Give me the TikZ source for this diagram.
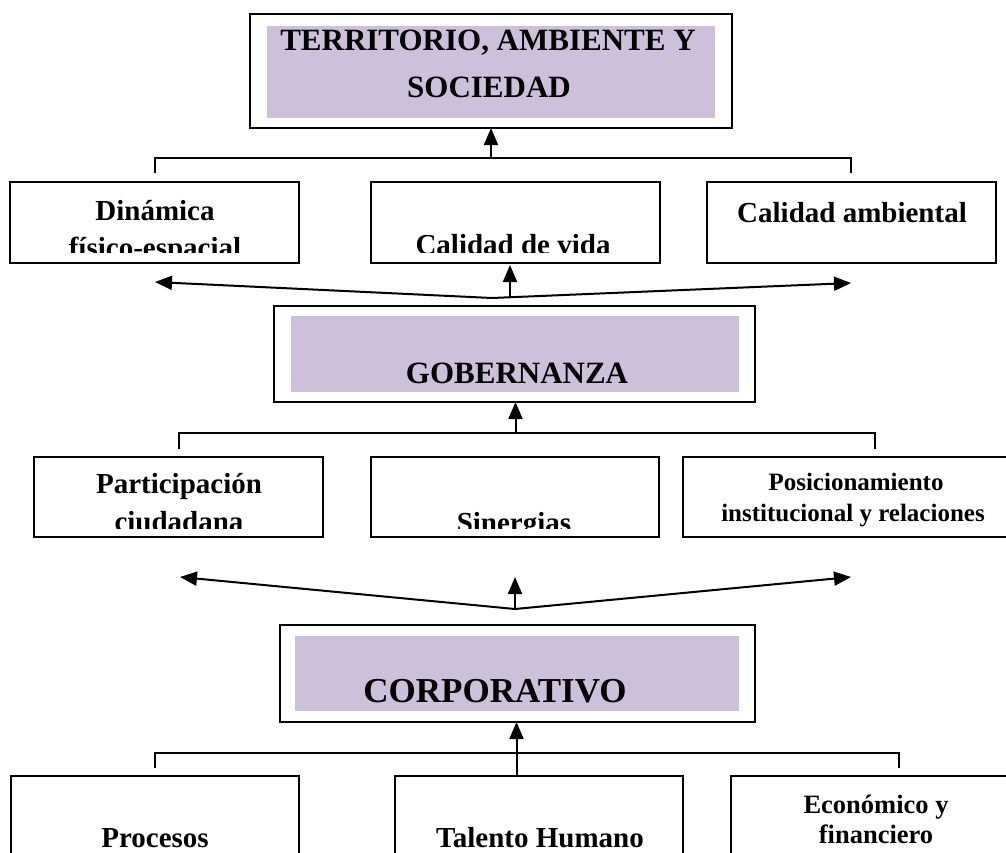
\documentclass[tikz,border=0pt]{standalone}
\usepackage{fontspec}
\setmainfont{Liberation Serif}
\usetikzlibrary{arrows.meta}
\definecolor{lav}{HTML}{CCC0DA}
\begin{document}
\begin{tikzpicture}[x=1pt,y=-1pt,
  box/.style={draw=black,line width=2pt,fill=white,anchor=north west,inner sep=0pt,outer sep=0pt},
  band/.style={fill=lav,draw=none,anchor=north west,inner sep=0pt,outer sep=0pt},
  lbl/.style={anchor=base,inner sep=0pt,font=\bfseries\fontsize{29}{29}\selectfont},
  conn/.style={draw=black,line width=2pt},
  arr/.style={conn,-{Triangle[length=17pt,width=14pt]}}
]
\useasboundingbox (0,0) rectangle (1006,852);
\clip (0,0) rectangle (1006,852);

% ---------- title boxes ----------
\node[box,minimum width=482pt,minimum height=114pt] (t1) at (250,14) {};
\node[band,minimum width=448pt,minimum height=92pt] (t1in) at (267,26) {};
\node[lbl,font=\bfseries\fontsize{31}{31}\selectfont] (t1a) at (488,50) {TERRITORIO, AMBIENTE Y};
\node[lbl,font=\bfseries\fontsize{31}{31}\selectfont] (t1b) at (489,97) {SOCIEDAD};

\node[box,minimum width=481pt,minimum height=96pt] (t2) at (274,306) {};
\node[band,minimum width=448pt,minimum height=76pt] (t2in) at (291,316) {};
\node[lbl,font=\bfseries\fontsize{31}{31}\selectfont] (t2a) at (517,383) {GOBERNANZA};

\node[box,minimum width=475pt,minimum height=97pt] (t3) at (280,625) {};
\node[band,minimum width=444pt,minimum height=75pt] (t3in) at (295,636) {};
\node[lbl,font=\bfseries\fontsize{35}{35}\selectfont] (t3a) at (495,702) {CORPORATIVO};

% ---------- row 1 ----------
\node[box,minimum width=289pt,minimum height=81pt] (b1) at (10,182) {};
\node[box,minimum width=289pt,minimum height=81pt] (b2) at (371,182) {};
\node[box,minimum width=289pt,minimum height=81pt] (b3) at (707,182) {};
\begin{scope}
  \clip (b1.north west) rectangle ([yshift=11pt]b3.south east);
  \node[lbl] (b1a) at (155,220) {Dinámica};
  \node[lbl] (b1b) at (155,257) {físico-espacial};
  \node[lbl] (b2a) at (513,254) {Calidad de vida};
  \node[lbl] (b3a) at (852,222) {Calidad ambiental};
\end{scope}

% ---------- row 2 ----------
\node[box,minimum width=289pt,minimum height=80pt] (m1) at (34,457) {};
\node[box,minimum width=288pt,minimum height=80pt] (m2) at (371,457) {};
\node[box,minimum width=338pt,minimum height=80pt] (m3) at (683,457) {};
\begin{scope}
  \clip (m1.north west) rectangle ([yshift=9pt]m3.south east);
  \node[lbl] (m1a) at (179,493) {Participación};
  \node[lbl] (m1b) at (179,531) {ciudadana};
  \node[lbl] (m2a) at (514,532) {Sinergias};
  \node[lbl,font=\bfseries\fontsize{25}{25}\selectfont] (m3a) at (856,490) {Posicionamiento};
  \node[lbl,font=\bfseries\fontsize{25}{25}\selectfont] (m3b) at (853,521) {institucional y relaciones};
\end{scope}

% ---------- row 3 ----------
\node[box,minimum width=288pt,minimum height=130pt] (c1) at (11,776) {};
\node[box,minimum width=288pt,minimum height=130pt] (c2) at (395,776) {};
\node[box,minimum width=290pt,minimum height=130pt] (c3) at (731,776) {};
\node[lbl] (c1a) at (155,847) {Procesos};
\node[lbl] (c2a) at (540,847) {Talento Humano};
\node[lbl,font=\bfseries\fontsize{26.5}{26.5}\selectfont] (c3a) at (876,813) {Económico y};
\node[lbl,font=\bfseries\fontsize{26.5}{26.5}\selectfont] (c3b) at (876,843) {financiero};

% ---------- connectors: brackets ----------
\coordinate (k1l) at (155,173);
\coordinate (k1r) at (851,173);
\coordinate (k1h) at (155,158);
\draw[conn] (k1l) -- (k1h) -| (k1r);
\draw[arr] (t1.south |- k1h) -- (t1.south);

\coordinate (k2l) at (179,449);
\coordinate (k2r) at (875,449);
\coordinate (k2h) at (179,433);
\draw[conn] (k2l) -- (k2h) -| (k2r);
\draw[arr] ([xshift=1pt]t2.south |- k2h) -- ([xshift=1pt]t2.south);

\coordinate (k3l) at (155,768);
\coordinate (k3r) at (899,768);
\coordinate (k3h) at (155,753);
\draw[conn] (k3l) -- (k3h) -| (k3r);
\draw[arr] ([xshift=-1pt]t3.south |- c2.north) -- ([xshift=-1pt]t3.south);

% ---------- connectors: fans ----------
\coordinate (f1) at (492,298);
\coordinate (f1l) at (155,282);
\coordinate (f1r) at (851,283);
\coordinate (f1u) at (510,298);
\draw[arr] (f1) -- (f1l);
\draw[arr] (f1) -- (f1r);
\draw[arr,shorten >=2pt] (f1u) -- (f1u |- b2.south);

\coordinate (f2) at (515,609);
\coordinate (f2l) at (180,577);
\coordinate (f2r) at (851,577);
\coordinate (f2u) at (515,577);
\draw[arr] (f2) -- (f2l);
\draw[arr] (f2) -- (f2r);
\draw[arr] (f2) -- (f2u);
\end{tikzpicture}
\end{document}
